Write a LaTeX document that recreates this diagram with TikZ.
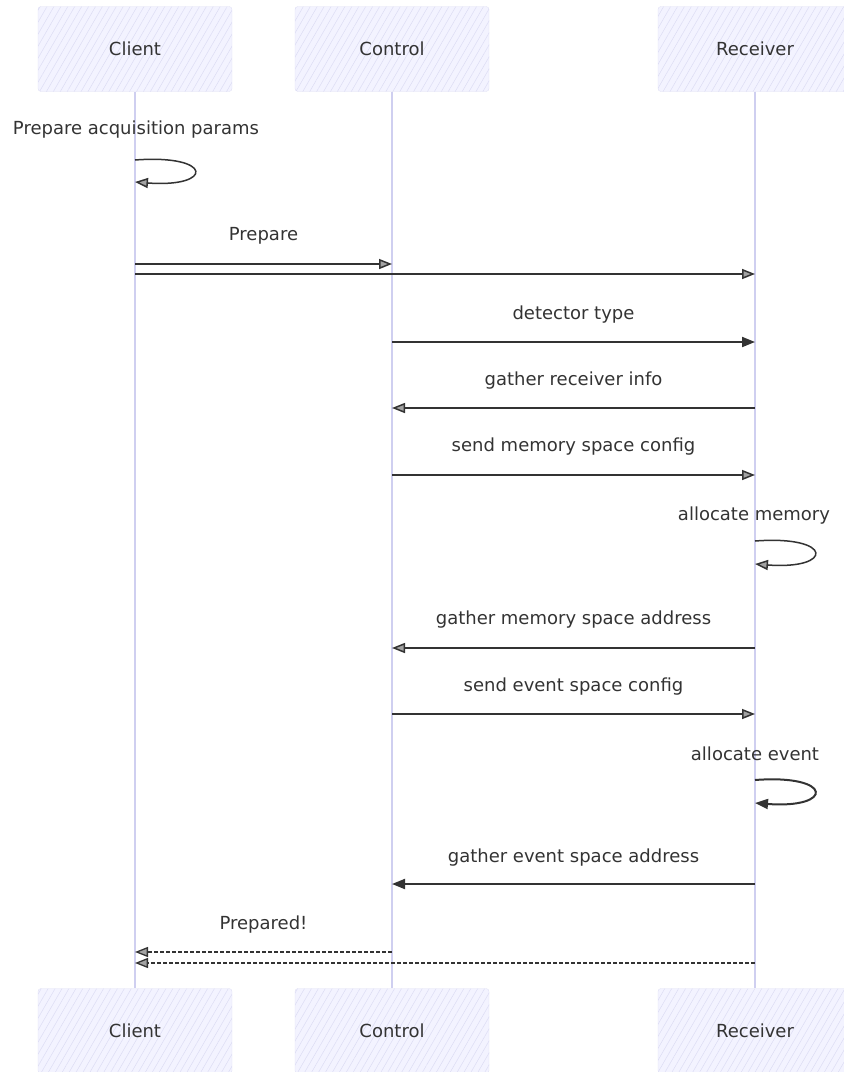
\documentclass[tikz,border=0pt]{standalone}
\usepackage{fontspec}
\setmainfont{DejaVu Sans}
\usetikzlibrary{arrows.meta,patterns.meta}
\definecolor{boxfill}{HTML}{F3F3FF}
\definecolor{hatchline}{HTML}{DCDCF4}
\definecolor{boxline}{HTML}{E0E0F4}
\definecolor{lifeline}{HTML}{CFCFF0}
\definecolor{ink}{HTML}{333333}

\begin{document}
\begin{tikzpicture}[x=1pt,y=-1pt,
	actor/.style={draw=boxline, fill=boxfill, rounded corners=3pt, minimum width=194pt, minimum height=85pt,
		postaction={pattern={Lines[angle=60,distance=6pt,line width=0.5pt]}, pattern color=hatchline},
		text=ink, font=\fontsize{18}{21}\selectfont},
	life/.style={draw=lifeline, line width=1.6pt},
	lbl/.style={text=ink, font=\fontsize{18}{21}\selectfont},
	msg/.style={draw=ink, line width=1.5pt, -{Triangle[length=13pt,width=10pt,fill=ink!45]}},
	msgsolid/.style={draw=ink, line width=2pt, -{Triangle[length=13pt,width=10pt]}},
	reply/.style={msg, line width=1.3pt, dash pattern=on 4pt off 2pt}]

	\useasboundingbox (0,0) rectangle (844,1072);

	% actors
	\node[actor] (cltop) at (135,49) {Client};
	\node[actor] (cttop) at (392,49) {Control};
	\node[actor] (rctop) at (755,49) {Receiver};
	\node[actor] (clbot) at (135,1031) {Client};
	\node[actor] (ctbot) at (392,1031) {Control};
	\node[actor] (rcbot) at (755,1031) {Receiver};

	% lifelines
	\draw[life] (cltop) -- (clbot);
	\draw[life] (cttop) -- (ctbot);
	\draw[life] (rctop) -- (rcbot);

	% self calls
	\node[lbl] (selfa) at (136,130) {Prepare acquisition params};
	\draw[msg] (cltop |- 0,160) .. controls (214,154) and (214,188) .. (cltop |- 0,182);
	\node[lbl] (selfb) at (754,516) {allocate memory};
	\draw[msg] (rctop |- 0,541) .. controls (834,535) and (834,570) .. (rctop |- 0,564);
	\node[lbl] (selfc) at (755,754) {allocate event};
	\draw[msgsolid] (rctop |- 0,780) .. controls (834,774) and (834,809) .. (rctop |- 0,803);

	% messages
	\draw[msg] (cltop |- 0,264) -- (cttop |- 0,264) node[lbl, midway, yshift=28pt] {Prepare};
	\draw[msg] (cltop |- 0,274) -- (rctop |- 0,274);
	\draw[msgsolid] (cttop |- 0,342) -- (rctop |- 0,342) node[lbl, midway, yshift=27pt] {detector type};
	\draw[msg] (rctop |- 0,408) -- (cttop |- 0,408) node[lbl, midway, yshift=27pt] {gather receiver info};
	\draw[msg] (cttop |- 0,475) -- (rctop |- 0,475) node[lbl, midway, yshift=28pt] {send memory space config};
	\draw[msg] (rctop |- 0,648) -- (cttop |- 0,648) node[lbl, midway, yshift=28pt] {gather memory space address};
	\draw[msg] (cttop |- 0,714) -- (rctop |- 0,714) node[lbl, midway, yshift=27pt] {send event space config};
	\draw[msgsolid] (rctop |- 0,884) -- (cttop |- 0,884) node[lbl, midway, yshift=26pt] {gather event space address};
	\draw[reply] (cttop |- 0,952) -- (cltop |- 0,952) node[lbl, midway, yshift=27pt] {Prepared!};
	\draw[reply] (rctop |- 0,963) -- (cltop |- 0,963);

\end{tikzpicture}
\end{document}
